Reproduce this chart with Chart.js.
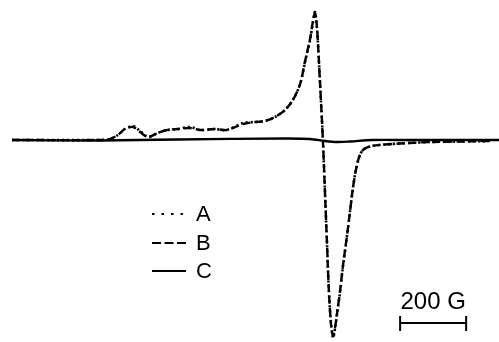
<!DOCTYPE html>
<html>
<head>
<meta charset="utf-8">
<script src="https://cdn.jsdelivr.net/npm/chart.js@4/dist/chart.umd.min.js"></script>
<style>
html,body{margin:0;padding:0;background:#fff;}
#wrap{width:499px;height:342px;}
</style>
</head>
<body>
<div id="wrap"><canvas id="c" width="499" height="342"></canvas></div>
<script>
// Magnetic field (G) for spectra A and B
const fieldAB = [3000,3267,3297,3321,3342,3367,3388,3412,3442,3470,3503,3539,3570,3615,3651,3700,3736,3767,3797,3827,3851,3873,3888,3903,3912,3918,3924,3930,3936,3942,3948,3954,3960,3967,3973,3979,3985,3994,4003,4015,4024,4033,4042,4054,4067,4091,4130,4176,4267,4357,4448];
// EPR derivative intensity (a.u.)
const seriesA = [0,0,1,5,11,14,9,3,7,10,11,13,10,11,10,17,18,19,23,30,40,56,78,100,118,128,112,78,40,0,-50,-100,-150,-185,-198,-188,-174,-152,-126,-96,-72,-48,-30,-15,-9,-6,-4.5,-3.5,-2,-1.5,-1];
const seriesB = [0,0,1,5,11,13,8,3,7,10,11,12,10,11,10,16,18,19,23,30,40,56,79,101,119,127,113,78,40,0,-50,-100,-150,-186,-196,-187,-173,-151,-125,-96,-72,-48,-30,-15,-9,-6,-4.5,-3.5,-2,-1.5,-1];
// Spectrum C
const fieldC = [3000,3267,3500,3827,3903,3948,3985,4024,4091,4200,4448,4500];
const seriesC = [0,-0.5,0.5,1.5,1,-1,-2,-1.5,0,0,0,0];
const legendLabels = ["A","B","C"];
const scaleBarStart = 4176, scaleBarLength = 200, scaleBarLabel = "200 G";

const toXY = (xs, ys) => xs.map((x, i) => ({x, y: ys[i]}));

const overlay = {
  id: 'overlay',
  afterDraw(chart) {
    const ctx = chart.ctx;
    const ds = chart.data.datasets;
    ctx.save();
    ctx.fillStyle = '#000';
    ctx.strokeStyle = '#000';
    ctx.font = '22px "Liberation Sans", Arial, sans-serif';
    ctx.textBaseline = 'middle';
    const rows = [214, 243, 271];
    const sampleDash = [[2.5, 7], [9, 3.5], []];
    legendLabels.forEach((lab, i) => {
      const d = ds[i];
      ctx.beginPath();
      ctx.lineWidth = 2;
      ctx.setLineDash(sampleDash[i]);
      ctx.moveTo(152, rows[i]);
      ctx.lineTo(186, rows[i]);
      ctx.stroke();
      ctx.setLineDash([]);
      ctx.fillText(lab, 196, rows[i] + 1);
    });
    // scale bar
    const xs = chart.scales.x;
    const x0 = xs.getPixelForValue(scaleBarStart);
    const x1 = xs.getPixelForValue(scaleBarStart + scaleBarLength);
    const yb = 323;
    ctx.lineWidth = 2;
    ctx.beginPath();
    ctx.moveTo(x0, yb); ctx.lineTo(x1, yb);
    ctx.moveTo(x0, yb - 7); ctx.lineTo(x0, yb + 8);
    ctx.moveTo(x1, yb - 7); ctx.lineTo(x1, yb + 8);
    ctx.stroke();
    ctx.font = '24px "Liberation Sans", Arial, sans-serif';
    ctx.textAlign = 'center';
    ctx.fillText(scaleBarLabel, (x0 + x1) / 2, 302);
    ctx.restore();
  }
};

new Chart(document.getElementById('c'), {
  type: 'line',
  data: {
    datasets: [
      {label: legendLabels[0], data: toXY(fieldAB, seriesA), borderColor: '#000', borderWidth: 2.6, borderDash: [2, 3], pointRadius: 0, tension: 0.3, fill: false},
      {label: legendLabels[1], data: toXY(fieldAB, seriesB), borderColor: '#000', borderWidth: 2.4, borderDash: [8, 4], pointRadius: 0, tension: 0.3, fill: false},
      {label: legendLabels[2], data: toXY(fieldC, seriesC), borderColor: '#000', borderWidth: 2.4, pointRadius: 0, tension: 0.3, fill: false}
    ]
  },
  options: {
    responsive: false,
    devicePixelRatio: 1,
    animation: false,
    layout: {padding: 0},
    plugins: {legend: {display: false}, tooltip: {enabled: false}},
    scales: {
      x: {type: 'linear', display: false, min: 2963.6, max: 4475.6},
      y: {type: 'linear', display: false, min: -202, max: 140}
    }
  },
  plugins: [overlay]
});
</script>
</body>
</html>
